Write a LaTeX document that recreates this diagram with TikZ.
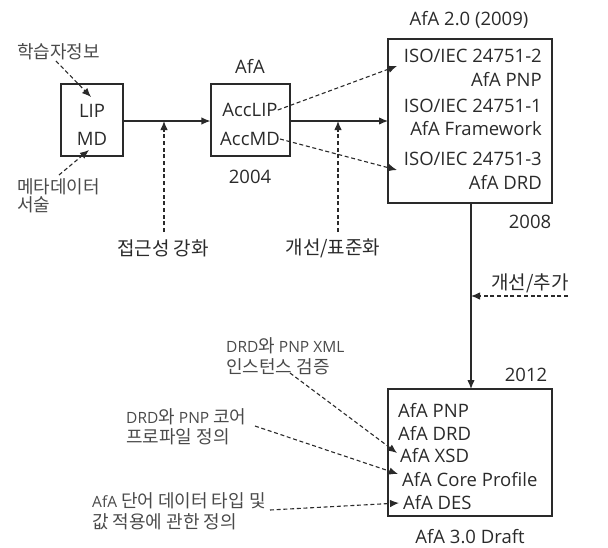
\documentclass[tikz,border=0pt]{standalone}
\usepackage{fontspec}
\setmainfont{Open Sans}
\newfontfamily\kr{Noto Sans CJK KR}
\newcommand{\ks}{\fontsize{18}{21}\kr\selectfont}
\usetikzlibrary{arrows.meta}
\definecolor{ink}{HTML}{2A2A2A}
\tikzset{
  box/.style={draw=ink, line width=1.2pt, inner sep=0pt},
  big/.style={font=\fontsize{18.5}{22}\selectfont, text=ink, inner sep=0pt},
  huge/.style={font=\fontsize{19}{22}\kr\selectfont, text=ink, inner sep=0pt},
  small/.style={font=\fontsize{15.5}{21}\selectfont, text=ink!85, inner sep=0pt, align=left},
  solidarr/.style={draw=ink, line width=1.2pt, -{Latex[length=9pt,width=7.5pt]}},
  dasharr/.style={draw=ink, line width=1.1pt, dash pattern=on 4pt off 2.7pt, -{Latex[length=9pt,width=7.5pt]}}
}
\begin{document}
\begin{tikzpicture}[x=1pt,y=-1pt]
\useasboundingbox (0,0) rectangle (608,547);
% boxes
\node[box, minimum width=62pt, minimum height=72pt] (b1) at (92,120) {};
\node[box, minimum width=79pt, minimum height=72pt] (b2) at (250.5,120) {};
\node[box, minimum width=164pt, minimum height=164pt] (b3) at (470,121) {};
\node[box, minimum width=164pt, minimum height=127pt] (b4) at (470,452.5) {};
% box 1
\node[big] (lip) at (92,111) {LIP};
\node[big] (md) at (92,139) {MD};
% box 2
\node[big] (acclip) at (250,110) {AccLIP};
\node[big] (accmd) at (250,139) {AccMD};
\node[big] (afa) at (250,66) {AfA};
\node[big] (y2004) at (250,177) {2004};
% box 3
\node[big] (title3) at (469,20) {AfA 2.0 (2009)};
\node[big, anchor=east] (iso2) at (542,56) {ISO/IEC 24751-2};
\node[big, anchor=east] (pnp2) at (542,79) {AfA PNP};
\node[big, anchor=east] (iso1) at (542,106) {ISO/IEC 24751-1};
\node[big, anchor=east] (fw) at (542,129) {AfA Framework};
\node[big, anchor=east] (iso3) at (542,159) {ISO/IEC 24751-3};
\node[big, anchor=east] (drd2) at (542,182) {AfA DRD};
\node[big] (y2008) at (530,222) {2008};
% box 4
\node[big] (y2012) at (526,375) {2012};
\node[big, anchor=west] (pnp4) at (398,410) {AfA PNP};
\node[big, anchor=west] (drd4) at (398,433) {AfA DRD};
\node[big, anchor=west] (xsd4) at (400,456) {AfA XSD};
\node[big, anchor=west] (core4) at (402,480) {AfA Core Profile};
\node[big, anchor=west] (des4) at (403,503) {AfA DES};
\node[big] (draft) at (470,537) {AfA 3.0 Draft};
% annotations
\node[small, anchor=west] (learner) at (17,52) {\ks 학습자정보};
\node[small, anchor=west] (meta) at (17,196) {\ks 메타데이터\\[-3pt]\ks 서술};
\node[huge] (access) at (163,248) {접근성 강화};
\node[huge] (std) at (333,248) {개선/표준화};
\node[huge] (add) at (530,283) {개선/추가};
\node[small, anchor=west] (xmlv) at (226,356) {DRD{\ks 와} PNP XML\\{\ks 인스턴스 검증}};
\node[small, anchor=west] (corep) at (126,427) {DRD{\ks 와} PNP {\ks 코어}\\[-1pt]{\ks 프로파일 정의}};
\node[small, anchor=west] (desd) at (92,511) {AfA {\ks 단어 데이터 타입 및}\\{\ks 값 적용에 관한 정의}};
% coordinates
\coordinate (m12) at (164,121);
\coordinate (m23) at (338,121);
\coordinate (m34) at (471,296);
\coordinate (e2w) at (290,121);
\coordinate (e3w) at (388,121);
\coordinate (b3s) at (471,203);
\coordinate (b4n) at (471,389);
\coordinate (addstart) at (568,296);
\coordinate (t1) at (91,97);
\coordinate (s1) at (56,61);
\coordinate (t2) at (89,150);
\coordinate (s2) at (59,175);
\coordinate (accstart) at (164,232);
\coordinate (stdstart) at (338,232);
\coordinate (iso2tip) at (397,66);
\coordinate (iso3tip) at (397,170);
\coordinate (xsdtip) at (397,453);
\coordinate (coretip) at (398,474);
\coordinate (destip) at (399,503);
\coordinate (xmlstart) at (290,373);
\coordinate (corestart) at (255,426);
\coordinate (desstart) at (270,510);
% solid connectors
\draw[solidarr] (b1.east |- e2w) -- (b2.west |- e2w);
\draw[solidarr] (e2w) -- (e3w);
\draw[solidarr] (b3s) -- (b4n);
% dashed connectors
\draw[dasharr] (s1) -- (t1);
\draw[dasharr] (s2) -- (t2);
\draw[dasharr] (accstart) -- (m12);
\draw[dasharr] (stdstart) -- (m23);
\draw[dasharr] (addstart) -- (m34);
\draw[dasharr] (acclip.east) -- (iso2tip);
\draw[dasharr] (accmd.east) -- (iso3tip);
\draw[dasharr] (xmlstart) -- (xsdtip);
\draw[dasharr] (corestart) -- (coretip);
\draw[dasharr] (desstart) -- (destip);
\end{tikzpicture}
\end{document}
